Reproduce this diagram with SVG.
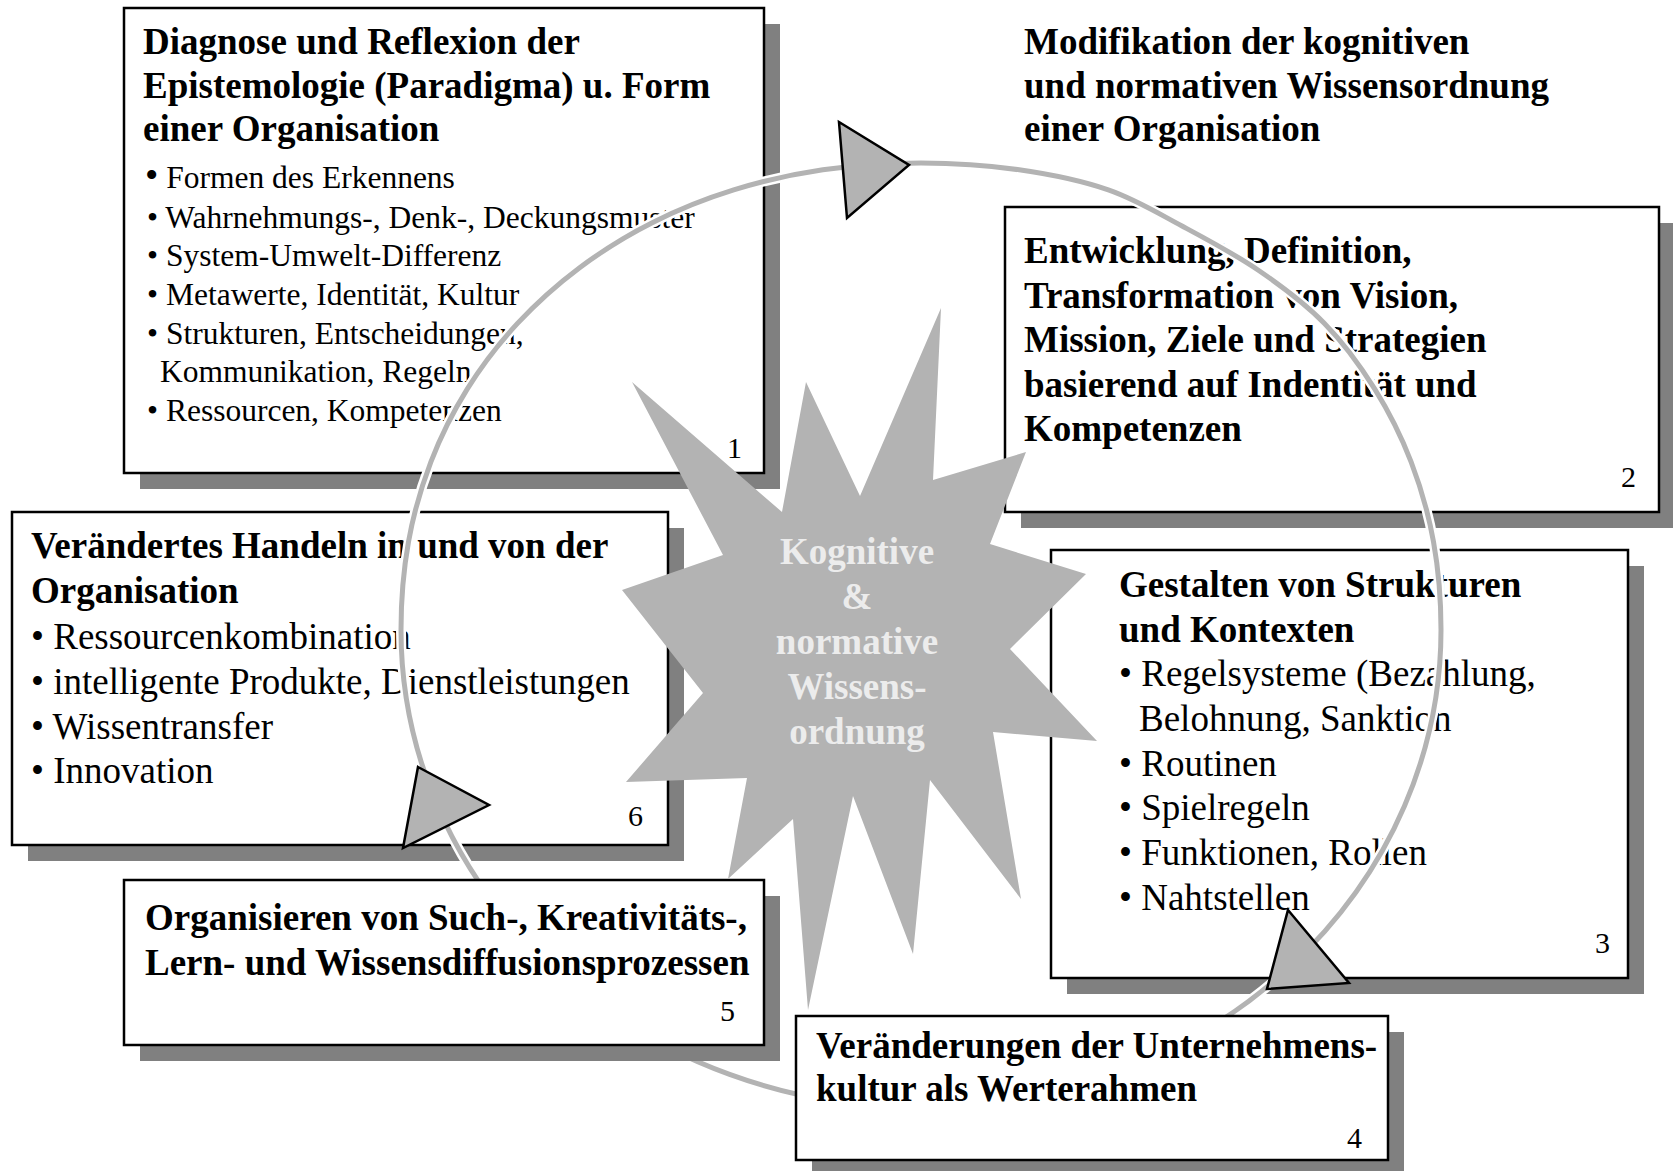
<svg xmlns="http://www.w3.org/2000/svg" width="1673" height="1171" viewBox="0 0 1673 1171">
<style>
.sh{fill:#808080}
.bx{fill:#fff;stroke:#000;stroke-width:2.5}
.t{font-family:"Liberation Serif","Times New Roman",serif;fill:#000}
.b{font-weight:bold;font-size:37px}
.r{font-size:37px}
.s{font-size:31.5px}
.n{font-size:30px;text-anchor:end}
.arc{fill:none;stroke:#b3b3b3;stroke-width:5}
.halo{fill:none;stroke:#fff;stroke-width:10}
.tri{fill:#b3b3b3;stroke:#000;stroke-width:2.5;stroke-linejoin:miter}
.star{fill:#b3b3b3}
.st{font-family:"Liberation Serif","Times New Roman",serif;font-weight:bold;font-size:37px;fill:#ececec;text-anchor:middle}
</style>
<defs>
<path id="ring" d="M401,630 C401,600.6 403.5,569.8 408.5,541.8 C413.5,513.8 421.1,487.3 430.9,461.8 C440.7,436.3 453.1,411.7 467.5,388.6 C481.9,365.5 498.8,343.6 517.5,323.4 C536.2,303.3 557.2,284.5 579.6,267.7 C602.1,250.9 626.5,235.7 652.2,222.7 C677.9,209.7 705.3,198.7 733.7,189.9 C762.1,181.1 791.6,174.3 822.8,169.8 C854,165.3 888.3,163 921,163 C953.7,163 988,165.3 1019.2,169.8 C1050.4,174.3 1081.2,180.5 1108.3,189.9 C1135.4,199.3 1157.1,212.7 1182,226 C1207,239.4 1234.3,253.8 1258,270 C1281.8,286.2 1305.1,303.6 1324.5,323.4 C1343.9,343.2 1360.1,365.5 1374.5,388.6 C1388.9,411.7 1401.3,436.3 1411.1,461.8 C1420.9,487.3 1428.5,513.8 1433.5,541.8 C1438.5,569.8 1441,600.6 1441,630 A520,478 0 0 1 401,630 Z"/>
</defs>
<rect width="1673" height="1171" fill="#fff"/>

<g id="box1">
<rect class="sh" x="140" y="24" width="640" height="465"/>
<rect class="bx" x="124" y="8" width="640" height="465"/>
<text class="t b"><tspan x="143" y="54">Diagnose und Reflexion der</tspan><tspan x="143" y="98">Epistemologie (Paradigma) u. Form</tspan><tspan x="143" y="141">einer Organisation</tspan></text>
<text class="t s"><tspan x="145" y="188"><tspan font-size="38">•</tspan> Formen des Erkennens</tspan><tspan x="147" y="228">• Wahrnehmungs-, Denk-, Deckungsmuster</tspan><tspan x="147" y="266">• System-Umwelt-Differenz</tspan><tspan x="147" y="305">• Metawerte, Identität, Kultur</tspan><tspan x="147" y="344">• Strukturen, Entscheidungen,</tspan><tspan x="160" y="382">Kommunikation, Regeln</tspan><tspan x="147" y="421">• Ressourcen, Kompetenzen</tspan></text>
<text class="t n" x="742" y="458">1</text>
</g>

<g id="title2">
<text class="t b"><tspan x="1024" y="54">Modifikation der kognitiven</tspan><tspan x="1024" y="98">und normativen Wissensordnung</tspan><tspan x="1024" y="141">einer Organisation</tspan></text>
</g>

<g id="box2">
<rect class="sh" x="1021" y="223" width="654" height="305"/>
<rect class="bx" x="1005" y="207" width="654" height="305"/>
<text class="t b"><tspan x="1024" y="263">Entwicklung, Definition,</tspan><tspan x="1024" y="307.5">Transformation von Vision,</tspan><tspan x="1024" y="352">Mission, Ziele und Strategien</tspan><tspan x="1024" y="396.5">basierend auf Indentität und</tspan><tspan x="1024" y="441">Kompetenzen</tspan></text>
<text class="t n" x="1636" y="487">2</text>
</g>

<g id="box3">
<rect class="sh" x="1067" y="566" width="577" height="428"/>
<rect class="bx" x="1051" y="550" width="577" height="428"/>
<text class="t b"><tspan x="1119" y="597">Gestalten von Strukturen</tspan><tspan x="1119" y="642">und Kontexten</tspan></text>
<text class="t r"><tspan x="1119" y="686">• Regelsysteme (Bezahlung,</tspan><tspan x="1139" y="731">Belohnung, Sanktion</tspan><tspan x="1119" y="776">• Routinen</tspan><tspan x="1119" y="820">• Spielregeln</tspan><tspan x="1119" y="865">• Funktionen, Rollen</tspan><tspan x="1119" y="910">• Nahtstellen</tspan></text>
<text class="t n" x="1610" y="953">3</text>
</g>

<g id="box6">
<rect class="sh" x="28" y="528" width="656" height="333"/>
<rect class="bx" x="12" y="512" width="656" height="333"/>
<text class="t b"><tspan x="31" y="558">Verändertes Handeln in und von der</tspan><tspan x="31" y="603">Organisation</tspan></text>
<text class="t r"><tspan x="31" y="649">• Ressourcenkombination</tspan><tspan x="31" y="694">• intelligente Produkte, Dienstleistungen</tspan><tspan x="31" y="739">• Wissentransfer</tspan><tspan x="31" y="783">• Innovation</tspan></text>
<text class="t n" x="643" y="826">6</text>
</g>

<g id="connectors">
<use href="#ring" class="halo"/>
<use href="#ring" class="arc"/>
</g>

<g id="box5">
<rect class="sh" x="140" y="896" width="640" height="165"/>
<rect class="bx" x="124" y="880" width="640" height="165"/>
<text class="t b"><tspan x="145" y="930">Organisieren von Such-, Kreativitäts-,</tspan><tspan x="145" y="975">Lern- und Wissensdiffusionsprozessen</tspan></text>
<text class="t n" x="735" y="1021">5</text>
</g>

<g id="box4">
<rect class="sh" x="812" y="1032" width="592" height="144"/>
<rect class="bx" x="796" y="1016" width="592" height="144"/>
<text class="t b"><tspan x="816" y="1058">Veränderungen der Unternehmens-</tspan><tspan x="816" y="1101">kultur als Werterahmen</tspan></text>
<text class="t n" x="1362" y="1148">4</text>
</g>

<g id="star">
<polygon class="star" points="941,308 933,480 1026,452 990,544 1086,574 1010,649 1097,741 993,732 1021,899 930,780 913,954 853,796 808,1010 793,819 728,879 747,778 626,782 703,693 622,590 723,555 632,382 782,512 806,382 860,496"/>
<text class="st"><tspan x="857" y="564">Kognitive</tspan><tspan x="857" y="609">&amp;</tspan><tspan x="857" y="654">normative</tspan><tspan x="857" y="699">Wissens-</tspan><tspan x="857" y="744">ordnung</tspan></text>
</g>

<g id="arrowheads">
<polygon class="tri" points="839,122 909,165 847,218"/>
<polygon class="tri" points="418,767 489,805 403,848"/>
<polygon class="tri" points="1288,910 1349,983 1267,989"/>
</g>
</svg>
